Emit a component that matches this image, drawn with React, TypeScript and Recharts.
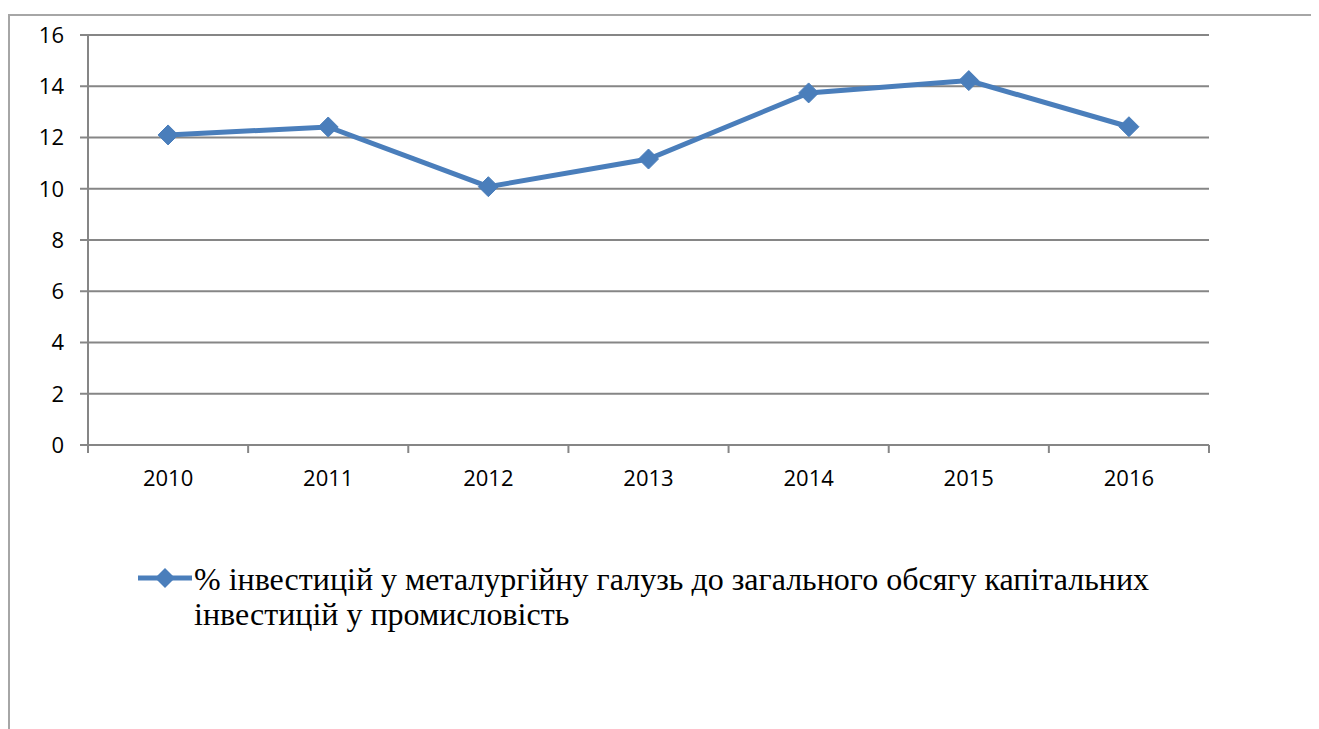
import React from 'react';
import { LineChart, Line, XAxis, YAxis, CartesianGrid, Legend } from 'recharts';

const years = ['2010', '2011', '2012', '2013', '2014', '2015', '2016'];
const shareValues = [12.1, 12.41, 10.08, 11.16, 13.74, 14.22, 12.42];
const yTicks = [0, 2, 4, 6, 8, 10, 12, 14, 16];
const seriesName =
  '% інвестицій у металургійну галузь до загального обсягу капітальних інвестицій у промисловість';

const data = years.map((year, i) => ({ year, idx: i + 0.5, value: shareValues[i] }));
const boundaryTicks = years.map((_, i) => i).concat([years.length]);

const LINE_COLOR = '#4a7ebb';
const GRID_COLOR = '#868686';
const AXIS_FONT = "'Open Sans', sans-serif";

const Diamond = (props: any) => {
  const { cx, cy } = props;
  if (cx == null || cy == null) return null;
  const r = 10;
  return (
    <polygon
      points={`${cx},${cy - r} ${cx + r},${cy} ${cx},${cy + r} ${cx - r},${cy}`}
      fill={LINE_COLOR}
      stroke={LINE_COLOR}
      strokeWidth={1}
    />
  );
};

const LegendContent = () => (
  <div style={{ display: 'flex', alignItems: 'flex-start' }}>
    <svg width={58} height={35}>
      <line x1={2} y1={16} x2={56} y2={16} stroke={LINE_COLOR} strokeWidth={5} />
      <polygon points="29,6 39,16 29,26 19,16" fill={LINE_COLOR} />
    </svg>
    <div
      style={{
        width: 1000,
        fontFamily: "'Liberation Serif', 'Times New Roman', serif",
        fontSize: 32,
        lineHeight: '35px',
        color: '#000',
      }}
    >
      {seriesName}
    </div>
  </div>
);

const EmptyTick = () => <g />;

export default function App() {
  return (
    <div style={{ paddingTop: 6 }}>
      <div
        style={{
          width: 1309,
          height: 713,
          borderLeft: '2px solid #a6a6a6',
          borderTop: '2px solid #a6a6a6',
          position: 'relative',
          overflow: 'hidden',
        }}
      >
        <LineChart
          width={1300}
          height={700}
          data={data}
          margin={{ top: 19, right: 101, bottom: 240, left: 0 }}
        >
          <CartesianGrid vertical={false} stroke={GRID_COLOR} strokeWidth={2} />
          <XAxis
            xAxisId="bound"
            dataKey="idx"
            type="number"
            domain={[0, years.length]}
            ticks={boundaryTicks}
            interval={0}
            axisLine={{ stroke: GRID_COLOR, strokeWidth: 2 }}
            tickLine={{ stroke: GRID_COLOR, strokeWidth: 2 }}
            tickSize={8}
            tick={<EmptyTick />}
            height={1}
          />
          <XAxis
            xAxisId="cat"
            dataKey="year"
            scale="band"
            axisLine={false}
            tickLine={false}
            tickSize={6}
            tickMargin={18}
            tick={{ fill: '#000', fontSize: 22, fontFamily: AXIS_FONT }}
            interval={0}
          />
          <YAxis
            domain={[0, 16]}
            ticks={yTicks}
            width={78}
            interval={0}
            axisLine={{ stroke: GRID_COLOR, strokeWidth: 2 }}
            tickLine={{ stroke: GRID_COLOR, strokeWidth: 2 }}
            tickSize={8}
            tickMargin={16}
            tick={{ fill: '#000', fontSize: 22, fontFamily: AXIS_FONT }}
          />
          <Legend
            verticalAlign="middle"
            align="center"
            content={<LegendContent />}
            wrapperStyle={{ left: 126, top: 546, width: 1100 }}
          />
          <Line
            xAxisId="cat"
            dataKey="value"
            name={seriesName}
            stroke={LINE_COLOR}
            strokeWidth={5}
            dot={<Diamond />}
            activeDot={false}
            isAnimationActive={false}
          />
        </LineChart>
      </div>
    </div>
  );
}
